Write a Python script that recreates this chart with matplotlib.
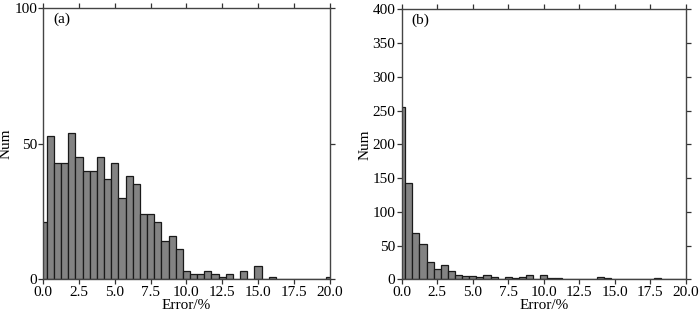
import matplotlib
matplotlib.use("Agg")
import matplotlib.pyplot as plt
import numpy as np

plt.rcParams['font.family'] = ['Liberation Serif', 'DejaVu Serif']

# bin centres (width 0.5)
centers = [i * 0.5 for i in range(41)]

counts_a = [21, 53, 43, 43, 54, 45, 40, 40, 45, 37,
            43, 30, 38, 35, 24, 24, 21, 14, 16, 11,
            3, 2, 2, 3, 2, 1, 2, 0, 3, 0,
            5, 0, 1, 0, 0, 0, 0, 0, 0, 0,
            1]
counts_b = [256, 143, 69, 52, 26, 16, 21, 12, 7, 5,
            5, 4, 7, 4, 1, 3, 2, 3, 7, 1,
            6, 2, 2, 1, 1, 1, 1, 1, 3, 2,
            1, 1, 1, 0, 1, 0, 2, 1, 1, 0,
            1]

xticks = [0, 2.5, 5, 7.5, 10, 12.5, 15, 17.5, 20]
xticklabels = ["0.0", "2.5", "5.0", "7.5", "10.0", "12.5", "15.0", "17.5", "20.0"]
yticks_a = [0, 50, 100]
yticks_b = [0, 50, 100, 150, 200, 250, 300, 350, 400]
panel_labels = ["(a)", "(b)"]

W, H = 700, 317
fig = plt.figure(figsize=(W / 100, H / 100), dpi=100)

def box(l, r, t, b):
    return [l / W, 1 - b / H, (r - l) / W, (b - t) / H]

ax_a = fig.add_axes(box(43.3, 329.5, 8.3, 279.3))
ax_b = fig.add_axes(box(401.7, 686, 9.3, 279.3))

fs = 11
for ax, counts, yt, ymax, lab in [(ax_a, counts_a, yticks_a, 100, panel_labels[0]),
                                   (ax_b, counts_b, yticks_b, 400, panel_labels[1])]:
    ax.bar(centers, counts, width=0.5, color="#838383", edgecolor="#1a1a1a",
           linewidth=0.9, align="center", zorder=2)
    ax.set_xlim(0, 20)
    ax.set_ylim(0, ymax)
    ax.set_xticks(xticks)
    ax.set_xticklabels(xticklabels)
    ax.set_yticks(yt)
    ax.tick_params(direction="out", length=3.5, width=0.9, color="#333333",
                   labelsize=fs, pad=1.0, top=True, right=True,
                   labeltop=False, labelright=False)
    for s in ax.spines.values():
        s.set_color("#444444")
        s.set_linewidth(1.0)
    ax.set_xlabel("Error/%", fontsize=fs, labelpad=0)
    ax.set_ylabel("Num", fontsize=fs, labelpad=1)
    ax.text(0.035, 0.985, lab, transform=ax.transAxes, fontsize=fs,
            ha="left", va="top")

fig.savefig("out.png", dpi=100)
